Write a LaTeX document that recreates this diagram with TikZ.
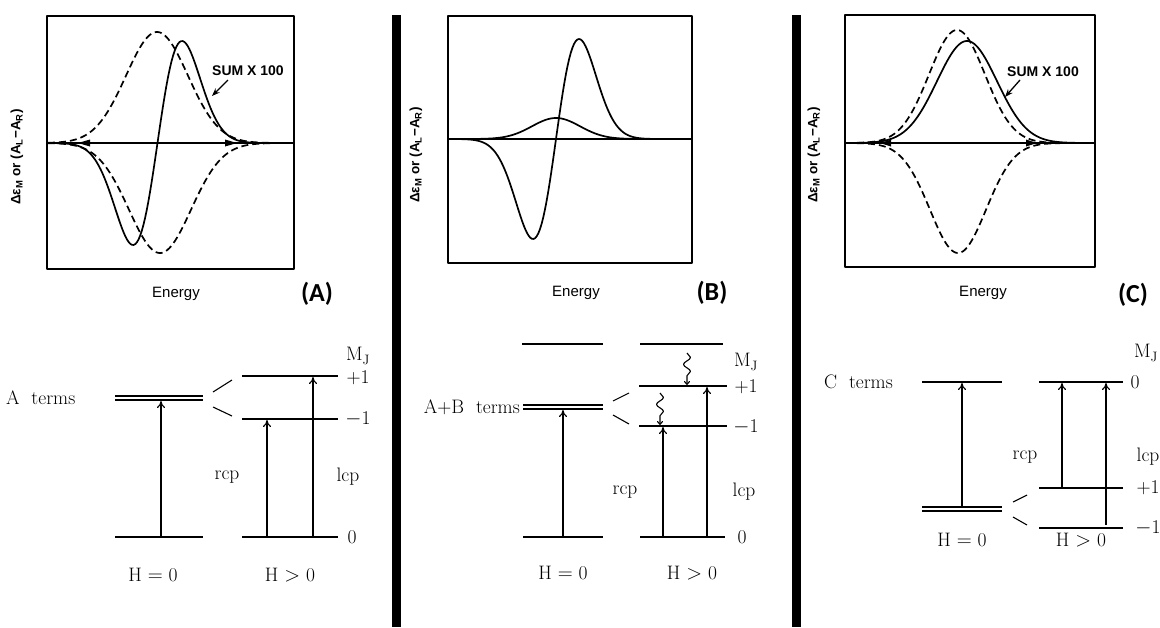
\documentclass[tikz,border=0pt]{standalone}
\usepackage{fontspec}
\newfontfamily\plotfont{Liberation Sans}
\newfontfamily\tagfont{Carlito}
\usetikzlibrary{arrows.meta,decorations.pathmorphing}

\begin{document}
\begin{tikzpicture}[
  x=1pt, y=-1pt,
  line join=round,
  frame/.style={line width=1.5pt},
  zeroline/.style={line width=2.2pt},
  curve/.style={line width=1.7pt, samples=150},
  dashcurve/.style={curve, dash pattern=on 7pt off 4pt},
  level/.style={line width=1.2pt},
  split/.style={line width=1.1pt},
  excite/.style={line width=1.1pt, -{To[length=7pt,width=8pt]}},
  relax/.style={line width=1.1pt, -{To[length=4pt,width=6pt]}, decorate,
    decoration={snake, amplitude=3.5pt, segment length=14pt, post length=8pt}},
  pointer/.style={line width=1.3pt, -{Stealth[length=8pt,width=6pt]}},
  plottext/.style={font=\plotfont\fontsize{15}{17}\selectfont},
  ylab/.style={font=\plotfont\bfseries\fontsize{13.5}{15}\selectfont, rotate=90},
  tag/.style={font=\tagfont\bfseries\fontsize{26}{30}\selectfont},
  lab/.style={font=\fontsize{19.5}{23}\selectfont, inner sep=1pt},
]
\useasboundingbox (0,0) rectangle (1160,627);

% ── the separating bars ───────────────────────────────────────────────────
\fill (392,15) rectangle (401,627);
\fill (792,15) rectangle (801,627);

% ── the three spectra: frames and zero lines ──────────────────────────────
\draw[frame] (47,16) rectangle (294,269);
\draw[frame] (448,16) rectangle (692,263);
\draw[frame] (845,15) rectangle (1095,267);
\draw[zeroline] (47,143) -- (294,143);
\draw[zeroline] (448,139) -- (692,139);
\draw[zeroline] (845,143) -- (1095,143);
\foreach \t/\b in {78/90, 237/225, 880/891, 1037/1026}
  { \fill (\t,143) -- (\b,139.5) -- (\b,146.5) -- cycle; }

% ── (A) A terms ───────────────────────────────────────────────────────────
\draw[dashcurve] plot[domain=48:293] (\x,{143-111*exp(-0.5*((\x-157)/31)^2)});
\draw[dashcurve] plot[domain=48:293] (\x,{143+110*exp(-0.5*((\x-160)/31)^2)});
\draw[curve] plot[domain=48:293]
  (\x,{143-102*((\x-157.5)/24.5)*exp(0.5-0.5*((\x-157.5)/24.5)^2)});

% ── (B) A+B terms ─────────────────────────────────────────────────────────
\draw[curve] plot[domain=449:691] (\x,{139-21*exp(-0.5*((\x-556)/24)^2)});
\draw[curve] plot[domain=449:691]
  (\x,{139-100*((\x-556)/23)*exp(0.5-0.5*((\x-556)/23)^2)});

% ── (C) C terms ───────────────────────────────────────────────────────────
\draw[dashcurve] plot[domain=846:1094] (\x,{143-113*exp(-0.5*((\x-957)/28)^2)});
\draw[dashcurve] plot[domain=846:1094] (\x,{143+110*exp(-0.5*((\x-958)/28)^2)});
\draw[curve] plot[domain=846:1094] (\x,{143-102*exp(-0.5*((\x-967)/30)^2)});

% ── plot texts ────────────────────────────────────────────────────────────
\node[ylab] (yA) at (17,157) {Δε\textsubscript{M} or  (A\textsubscript{L}−A\textsubscript{R})};
\node[ylab] (yB) at (416,155) {Δε\textsubscript{M} or  (A\textsubscript{L}−A\textsubscript{R})};
\node[ylab] (yC) at (814,155) {Δε\textsubscript{M} or  (A\textsubscript{L}−A\textsubscript{R})};
\node[plottext] (enA) at (176,294) {Energy};
\node[plottext] (enB) at (576,293) {Energy};
\node[plottext] (enC) at (983,293) {Energy};
\node[plottext, font=\plotfont\bfseries\fontsize{14}{16}\selectfont] (sumA) at (248,71) {SUM X 100};
\node[plottext, font=\plotfont\bfseries\fontsize{14}{16}\selectfont] (sumC) at (1043,72) {SUM X 100};
\coordinate (sumAtail) at (228,80);  \coordinate (sumAtip) at (212,96);
\coordinate (sumCtail) at (1020,80); \coordinate (sumCtip) at (1005,97);
\draw[pointer] (sumAtail) -- (sumAtip);
\draw[pointer] (sumCtail) -- (sumCtip);
\node[tag] (tagA) at (317,294) {(A)};
\node[tag] (tagB) at (712,293) {(B)};
\node[tag] (tagC) at (1133,295) {(C)};

% ── energy levels ─────────────────────────────────────────────────────────
\foreach \xa/\xb/\y in {%
  115/203/396, 115/203/400, 115/203/537, 242/338/376, 242/338/419, 242/338/537,
  522/603/344, 523/603/405, 523/603/409, 523/603/537,
  640/723/344, 639/727/386, 639/727/426, 640/725/537,
  922/1002/382, 922/1002/507, 922/1002/511, 1039/1123/382, 1039/1123/488, 1039/1123/528%
} { \draw[level] (\xa,\y) -- (\xb,\y); }
\foreach \xa/\ya/\xb/\yb in {%
  213/392/232/380, 213/407/232/416,
  613/401/629/393, 613/415/629/424,
  1013/502/1027/495, 1013/517/1027/525%
} { \draw[split] (\xa,\ya) -- (\xb,\yb); }

% ── transitions ───────────────────────────────────────────────────────────
\foreach \x/\ya/\yb in {%
  161/537/401, 267/537/420, 313/537/377,
  563/537/410, 663/537/427, 707/537/387,
  962/507/383, 1062/488/383, 1106/525/383%
} { \draw[excite] (\x,\ya) -- (\x,\yb); }
\draw[relax] (687,353) -- (687,385);
\draw[relax] (660,393) -- (660,425);

% ── level texts ───────────────────────────────────────────────────────────
\node[lab, anchor=west] (termA) at (5,398) {A\ \ terms};
\node[lab, anchor=east] (termB) at (521,407) {A+B\ \ terms};
\node[lab, anchor=west] (termC) at (823,382) {C\ \ terms};
\foreach \x/\y/\t [count=\i] in {%
  358/356/M\textsubscript{J}, 358/378/+1, 358/419/$-$1, 352/537/0,
  227/477/rcp, 348/477/lcp, 153/575/H $=$ 0, 290/575/H $>$ 0,
  746/362/M\textsubscript{J}, 746/387/+1, 746/427/$-$1, 742/537/0,
  625/492/rcp, 744/492/lcp, 563/573/H $=$ 0, 692/573/H $>$ 0,
  1146/353/M\textsubscript{J}, 1135/382/0, 1148/488/+1, 1148/528/$-$1,
  1025/457/rcp, 1148/457/lcp, 962/540/H $=$ 0, 1081/540/H $>$ 0%
} { \node[lab] (mark\i) at (\x,\y) {\t}; }

\end{tikzpicture}
\end{document}
